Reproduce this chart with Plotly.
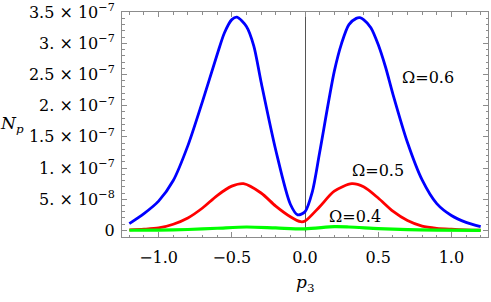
import plotly.graph_objects as go

# ---- data (N_p in units of 1e-7) ----
p_blue = [-1.2, -1.1, -1.0, -0.9, -0.8, -0.7, -0.6, -0.55, -0.5, -0.465, -0.4, -0.35, -0.3,
          -0.2, -0.1, -0.05, 0.0, 0.05, 0.1, 0.2, 0.25, 0.3, 0.35, 0.375, 0.4, 0.45, 0.5,
          0.55, 0.6, 0.7, 0.8, 0.9, 1.0, 1.1, 1.2]
n_blue = [0.11, 0.27, 0.47, 0.80, 1.36, 2.07, 2.82, 3.17, 3.38, 3.42, 3.27, 2.96, 2.38,
          1.29, 0.42, 0.25, 0.30, 0.62, 1.25, 2.55, 3.00, 3.30, 3.40, 3.41, 3.38, 3.25, 2.98,
          2.62, 2.19, 1.41, 0.81, 0.43, 0.24, 0.13, 0.06]

p_red = [-1.2, -1.1, -1.0, -0.9, -0.8, -0.7, -0.6, -0.5, -0.42, -0.3, -0.2, -0.1, -0.03,
         0.0, 0.1, 0.2, 0.32, 0.4, 0.5, 0.6, 0.7, 0.8, 0.9, 1.0, 1.1, 1.2]
n_red = [0.01, 0.02, 0.04, 0.10, 0.20, 0.36, 0.56, 0.71, 0.75, 0.60, 0.39, 0.22, 0.14,
         0.15, 0.38, 0.63, 0.75, 0.70, 0.52, 0.31, 0.16, 0.07, 0.035, 0.02, 0.01, 0.005]

p_green = [-1.2, -1.0, -0.8, -0.6, -0.4, -0.2, 0.0, 0.2, 0.3, 0.5, 0.7, 0.9, 1.2]
n_green = [0.003, 0.006, 0.015, 0.035, 0.055, 0.04, 0.025, 0.06, 0.055, 0.03, 0.012, 0.005, 0.002]

scale = 1e-7

y_tickvals = [0, 5e-8, 1e-7, 1.5e-7, 2e-7, 2.5e-7, 3e-7, 3.5e-7]
y_ticktext = ["0", "5. × 10<sup>−8</sup>", "1. × 10<sup>−7</sup>", "1.5 × 10<sup>−7</sup>",
              "2. × 10<sup>−7</sup>", "2.5 × 10<sup>−7</sup>", "3. × 10<sup>−7</sup>",
              "3.5 × 10<sup>−7</sup>"]
x_tickvals = [-1.0, -0.5, 0.0, 0.5, 1.0]
x_ticktext = ["−1.0", "−0.5", "0.0", "0.5", "1.0"]

labels = ["Ω=0.6", "Ω=0.5", "Ω=0.4"]

FONT = "DejaVu Serif"
FRAME = "#8c8c8c"

fig = go.Figure()
for px, ny, col, w in [(p_blue, n_blue, "#0000FF", 2.8),
                       (p_red, n_red, "#FF0000", 2.8),
                       (p_green, n_green, "#00FF00", 3.2)]:
    fig.add_trace(go.Scatter(x=px, y=[v * scale for v in ny], mode="lines",
                             line=dict(color=col, width=w, shape="spline", smoothing=0.8),
                             showlegend=False, hoverinfo="skip"))

lab_font = dict(family=FONT, size=16, color="black")
fig.add_annotation(x=0.84, y=2.45e-7, text=labels[0], showarrow=False, font=lab_font)
fig.add_annotation(x=0.50, y=0.955e-7, text=labels[1], showarrow=False, font=lab_font)
fig.add_annotation(x=0.34, y=0.22e-7, text=labels[2], showarrow=False, font=lab_font)

fig.add_annotation(xref="paper", yref="paper", x=-0.300, y=0.5, xanchor="center",
                   text="<i>N</i><sub><i>p</i></sub>", showarrow=False,
                   font=dict(family=FONT, size=17, color="black"))
fig.add_annotation(xref="paper", yref="paper", x=0.5, y=-0.205, yanchor="middle",
                   text="<i>p</i><sub>3</sub>", showarrow=False,
                   font=dict(family=FONT, size=17, color="black"))

fig.update_layout(
    width=491, height=302,
    margin=dict(l=122, r=3, t=12, b=64.5, pad=0),
    paper_bgcolor="white", plot_bgcolor="white",
    font=dict(family=FONT, size=16, color="black"),
    xaxis=dict(range=[-1.25, 1.25], tickvals=x_tickvals, ticktext=x_ticktext,
               automargin=False,
               ticks="inside", ticklen=5, tickcolor=FRAME, tickwidth=1,
               showline=True, linecolor=FRAME, linewidth=1, mirror="ticks",
               showgrid=False, zeroline=True, zerolinecolor="#555555", zerolinewidth=1,
               ticklabelstandoff=6,
               tickfont=dict(family=FONT, size=16, color="black"),
               minor=dict(ticks="inside", dtick=0.1, tick0=0, ticklen=2.5, tickcolor=FRAME,
                          showgrid=False)),
    yaxis=dict(range=[-1.05e-8, 3.502e-7], tickvals=y_tickvals, ticktext=y_ticktext,
               automargin=False, ticklabeloverflow="allow",
               ticks="inside", ticklen=5, tickcolor=FRAME, tickwidth=1,
               showline=True, linecolor=FRAME, linewidth=1, mirror="ticks",
               showgrid=False, zeroline=False, ticklabelstandoff=3,
               tickfont=dict(family=FONT, size=16, color="black"),
               minor=dict(ticks="inside", dtick=1e-8, tick0=0, ticklen=2.5, tickcolor=FRAME,
                          showgrid=False)),
)

fig.write_html("out.html", config={"displayModeBar": False},
               post_script="document.body.style.margin='0';")
